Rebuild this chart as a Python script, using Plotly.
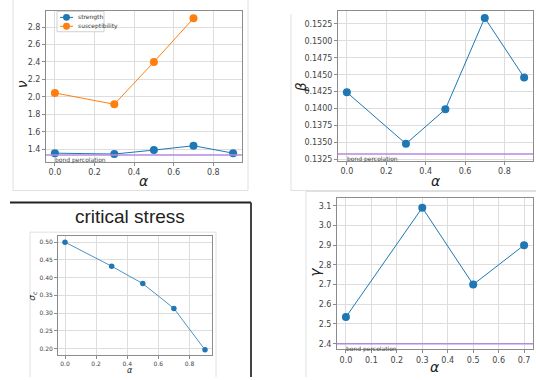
import plotly.graph_objects as go

W, H = 536, 380

# ---------------- data ----------------
alpha_nu_str = [0.0, 0.3, 0.5, 0.7, 0.9]
nu_strength = [1.355, 1.345, 1.39, 1.44, 1.355]
alpha_nu_sus = [0.0, 0.3, 0.5, 0.7]
nu_susceptibility = [2.045, 1.915, 2.40, 2.90]
nu_bond = 4 / 3

alpha_beta = [0.0, 0.3, 0.5, 0.7, 0.9]
beta_vals = [0.1424, 0.1348, 0.1399, 0.1534, 0.1446]
beta_bond = 0.1333

alpha_sigma = [0.0, 0.3, 0.5, 0.7, 0.9]
sigma_c = [0.500, 0.432, 0.383, 0.313, 0.196]

alpha_gamma = [0.0, 0.3, 0.5, 0.7]
gamma_vals = [2.535, 3.09, 2.70, 2.90]
gamma_bond = 2.4

legend_names = ["strength", "susceptibility"]

BLUE = "#1f77b4"
ORANGE = "#ff7f0e"
PURPLE = "#b48ae0"
TICKC = "#444444"
GRID = "#dddddd"
BORDER = "#8c8c8c"
FONT = "DejaVu Sans"


def px(x):
    return x / W


def py(y):
    return 1 - y / H


fig = go.Figure()

# ---- top-left: nu ----
fig.add_trace(go.Scatter(x=alpha_nu_str, y=nu_strength, mode="lines+markers", name=legend_names[0],
                         line=dict(color=BLUE, width=1), marker=dict(color=BLUE, size=8),
                         xaxis="x", yaxis="y", showlegend=False))
fig.add_trace(go.Scatter(x=alpha_nu_sus, y=nu_susceptibility, mode="lines+markers", name=legend_names[1],
                         line=dict(color=ORANGE, width=1), marker=dict(color=ORANGE, size=8),
                         xaxis="x", yaxis="y", showlegend=False))
# ---- top-right: beta ----
fig.add_trace(go.Scatter(x=alpha_beta, y=beta_vals, mode="lines+markers", showlegend=False,
                         line=dict(color=BLUE, width=1), marker=dict(color=BLUE, size=8),
                         xaxis="x2", yaxis="y2"))
# ---- bottom-left: sigma ----
fig.add_trace(go.Scatter(x=alpha_sigma, y=sigma_c, mode="lines+markers", showlegend=False,
                         line=dict(color=BLUE, width=0.8), marker=dict(color=BLUE, size=5.5),
                         xaxis="x3", yaxis="y3"))
# ---- bottom-right: gamma ----
fig.add_trace(go.Scatter(x=alpha_gamma, y=gamma_vals, mode="lines+markers", showlegend=False,
                         line=dict(color=BLUE, width=1), marker=dict(color=BLUE, size=8),
                         xaxis="x4", yaxis="y4"))


def ax(domain, rng, tickvals, fmt, anchor, size=8):
    return dict(domain=domain, range=rng, tickvals=tickvals,
                ticktext=[fmt.format(v) for v in tickvals],
                showline=True, mirror=True, linecolor=BORDER, linewidth=1,
                showgrid=True, gridcolor=GRID, gridwidth=1, zeroline=False,
                ticks="outside", ticklen=3, tickcolor=BORDER,
                tickfont=dict(size=size, color=TICKC, family=FONT), anchor=anchor)


xt9 = [0.0, 0.2, 0.4, 0.6, 0.8]
fig.update_layout(
    xaxis=ax([px(46), px(242)], [-0.045, 0.945], xt9, "{:.1f}", "y"),
    yaxis=ax([py(163), py(11)], [1.257, 2.985], [1.4, 1.6, 1.8, 2.0, 2.2, 2.4, 2.6, 2.8], "{:.1f}", "x"),
    xaxis2=ax([px(338), px(533)], [-0.045, 0.945], xt9, "{:.1f}", "y2"),
    yaxis2=ax([py(162), py(11)], [0.1323, 0.15443],
              [0.1325, 0.135, 0.1375, 0.14, 0.1425, 0.145, 0.1475, 0.15, 0.1525], "{:.4f}", "x2"),
    xaxis3=ax([px(58), px(212)], [-0.045, 0.945], xt9, "{:.1f}", "y3", size=6),
    yaxis3=ax([py(358), py(238)], [0.181, 0.517], [0.20, 0.25, 0.30, 0.35, 0.40, 0.45, 0.50], "{:.2f}", "x3", size=6),
    xaxis4=ax([px(337), px(533)], [-0.035, 0.735], [0.0, 0.1, 0.2, 0.3, 0.4, 0.5, 0.6, 0.7], "{:.1f}", "y4"),
    yaxis4=ax([py(352), py(200)], [2.372, 3.137], [2.4, 2.5, 2.6, 2.7, 2.8, 2.9, 3.0, 3.1], "{:.1f}", "x4"),
)

shapes = []
# bond percolation lines
for xa, ya, val in [("x", "y", nu_bond), ("x2", "y2", beta_bond), ("x4", "y4", gamma_bond)]:
    shapes.append(dict(type="line", xref=f"{xa} domain", yref=ya, x0=0, x1=1, y0=val, y1=val,
                       line=dict(color=PURPLE, width=1.5)))


def seg(x0, y0, x1, y1, color="#e0e0e0", width=1, layer="below"):
    shapes.append(dict(type="line", xref="paper", yref="paper", x0=px(x0), y0=py(y0), x1=px(x1), y1=py(y1),
                       line=dict(color=color, width=width), layer=layer))


# panel frames
seg(13, 0, 13, 192); seg(13, 192, 248, 192); seg(248, 0, 248, 192)
seg(291, 14, 291, 192); seg(291, 192, 536, 192)
seg(30, 234, 30, 380); seg(30, 234, 216, 234); seg(216, 234, 216, 380)
seg(306, 193, 306, 380); seg(306, 193, 536, 193)
seg(10, 204, 251, 204, color="#222222", width=2)
seg(251, 204, 251, 380, color="#444444", width=2)

# manual legend box (top-left panel)
shapes.append(dict(type="rect", xref="paper", yref="paper", x0=px(57), x1=px(104), y0=py(32), y1=py(11.5),
                   line=dict(color="#d0d0d0", width=1), fillcolor="rgba(255,255,255,0.9)", layer="above"))
annotations = []
for i, (name, col) in enumerate(zip(legend_names, [BLUE, ORANGE])):
    yy = 17.5 + i * 9
    seg(60, yy, 73, yy, color=col, width=1, layer="above")
    shapes.append(dict(type="circle", xref="paper", yref="paper", x0=px(63), x1=px(70), y0=py(yy + 3.5),
                       y1=py(yy - 3.5), fillcolor=col, line=dict(color=col, width=0), layer="above"))
    annotations.append(dict(text=name, x=px(76), y=py(yy), xref="paper", yref="paper", showarrow=False,
                            xanchor="left", yanchor="middle", font=dict(size=6, family=FONT, color="#333333")))


def label(text, x, y, size=12, angle=0, fam=FONT, color="#222222"):
    annotations.append(dict(text=text, x=px(x), y=py(y), xref="paper", yref="paper", showarrow=False,
                            xanchor="center", yanchor="middle", textangle=angle,
                            font=dict(size=size, family=fam, color=color)))


label("<i>ν</i>", 22, 85, size=14, angle=-90)
label("<i>α</i>", 144, 182, size=14)
label("<i>β</i>", 301, 88, size=14, angle=-90)
label("<i>α</i>", 436, 182, size=14)
label("<i>σ<sub>c</sub></i>", 33, 298, size=9, angle=-90)
label("<i>α</i>", 130, 373, size=8)
label("<i>γ</i>", 315, 275, size=14, angle=-90)
label("<i>α</i>", 435, 370, size=14)
label("critical stress", 130, 218, size=19, fam="Liberation Sans, Arial", color="#222222")

for xa, ya, val in [("x", "y", nu_bond), ("x2", "y2", beta_bond), ("x4", "y4", gamma_bond)]:
    annotations.append(dict(text="bond percolation", xref=xa, yref=ya, x=0, y=val, showarrow=False,
                            xanchor="left", yanchor="top", xshift=-2, yshift=1,
                            font=dict(size=6, family=FONT, color="#444444")))

fig.update_layout(
    width=W, height=H, margin=dict(l=0, r=0, t=0, b=0),
    paper_bgcolor="white", plot_bgcolor="white",
    shapes=shapes, annotations=annotations, showlegend=False,
)

fig.write_html("out.html", config={"displayModeBar": False},
               post_script="document.body.style.margin='0';document.body.style.overflow='hidden';")
